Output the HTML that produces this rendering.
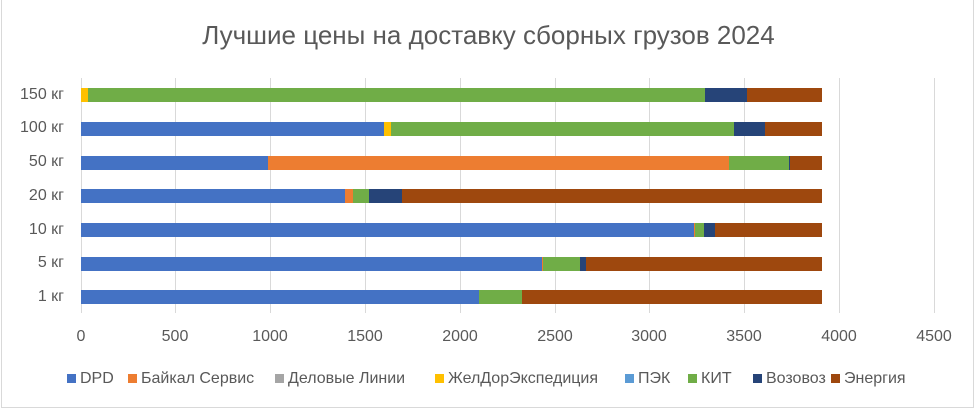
<!DOCTYPE html>
<html><head><meta charset="utf-8"><style>
body{margin:0;width:977px;height:410px;background:#fff;position:relative;overflow:hidden;font-family:"Liberation Sans","DejaVu Sans",sans-serif;color:#595959}
.frame{position:absolute;left:1px;top:-1px;width:973px;height:409px;border:1px solid #d9d9d9;box-sizing:border-box}
.t{position:absolute;white-space:nowrap}
.g{position:absolute;top:78px;height:235px;width:1px;background:#d9d9d9}
.b{position:absolute;height:14px}
.cat{position:absolute;right:913px;font-size:16px;white-space:nowrap}
.tick{position:absolute;top:328px;font-size:16px;width:60px;text-align:center}
.lg{position:absolute;top:370px;font-size:16px;white-space:nowrap}
.lg i{display:inline-block;width:9px;height:9px;margin-right:4px;vertical-align:0px}
</style></head><body>
<div class="frame"></div>
<div class="t" style="left:0;width:977px;text-align:center;top:20px;font-size:26px">Лучшие цены на доставку сборных грузов 2024</div>
<div class="g" style="left:81px"></div><div class="g" style="left:175px"></div><div class="g" style="left:270px"></div><div class="g" style="left:365px"></div><div class="g" style="left:460px"></div><div class="g" style="left:555px"></div><div class="g" style="left:649px"></div><div class="g" style="left:744px"></div><div class="g" style="left:839px"></div><div class="g" style="left:934px"></div>
<div class="tick" style="left:51px">0</div><div class="tick" style="left:145px">500</div><div class="tick" style="left:240px">1000</div><div class="tick" style="left:335px">1500</div><div class="tick" style="left:430px">2000</div><div class="tick" style="left:525px">2500</div><div class="tick" style="left:619px">3000</div><div class="tick" style="left:714px">3500</div><div class="tick" style="left:809px">4000</div><div class="tick" style="left:904px">4500</div>
<div class="cat" style="top:86px">150 кг</div>
<div class="cat" style="top:119px">100 кг</div>
<div class="cat" style="top:153px">50 кг</div>
<div class="cat" style="top:187px">20 кг</div>
<div class="cat" style="top:221px">10 кг</div>
<div class="cat" style="top:254px">5 кг</div>
<div class="cat" style="top:288px">1 кг</div>
<div class="b" style="top:88px;left:81px;width:7px;background:#ffc000"></div>
<div class="b" style="top:88px;left:88px;width:617px;background:#70ad47"></div>
<div class="b" style="top:88px;left:705px;width:42px;background:#264478"></div>
<div class="b" style="top:88px;left:747px;width:75px;background:#9e480e"></div>
<div class="b" style="top:122px;left:81px;width:303px;background:#4472c4"></div>
<div class="b" style="top:122px;left:384px;width:7px;background:#ffc000"></div>
<div class="b" style="top:122px;left:391px;width:343px;background:#70ad47"></div>
<div class="b" style="top:122px;left:734px;width:31px;background:#264478"></div>
<div class="b" style="top:122px;left:765px;width:57px;background:#9e480e"></div>
<div class="b" style="top:156px;left:81px;width:187px;background:#4472c4"></div>
<div class="b" style="top:156px;left:268px;width:461px;background:#ed7d31"></div>
<div class="b" style="top:156px;left:729px;width:60px;background:#70ad47"></div>
<div class="b" style="top:156px;left:789px;width:1px;background:#264478"></div>
<div class="b" style="top:156px;left:790px;width:32px;background:#9e480e"></div>
<div class="b" style="top:189px;left:81px;width:264px;background:#4472c4"></div>
<div class="b" style="top:189px;left:345px;width:8px;background:#ed7d31"></div>
<div class="b" style="top:189px;left:353px;width:16px;background:#70ad47"></div>
<div class="b" style="top:189px;left:369px;width:33px;background:#264478"></div>
<div class="b" style="top:189px;left:402px;width:420px;background:#9e480e"></div>
<div class="b" style="top:223px;left:81px;width:613px;background:#4472c4"></div>
<div class="b" style="top:223px;left:694px;width:1px;background:#ed7d31"></div>
<div class="b" style="top:223px;left:695px;width:9px;background:#70ad47"></div>
<div class="b" style="top:223px;left:704px;width:11px;background:#264478"></div>
<div class="b" style="top:223px;left:715px;width:107px;background:#9e480e"></div>
<div class="b" style="top:257px;left:81px;width:461px;background:#4472c4"></div>
<div class="b" style="top:257px;left:542px;width:1px;background:#ed7d31"></div>
<div class="b" style="top:257px;left:543px;width:37px;background:#70ad47"></div>
<div class="b" style="top:257px;left:580px;width:6px;background:#264478"></div>
<div class="b" style="top:257px;left:586px;width:236px;background:#9e480e"></div>
<div class="b" style="top:290px;left:81px;width:398px;background:#4472c4"></div>
<div class="b" style="top:290px;left:479px;width:43px;background:#70ad47"></div>
<div class="b" style="top:290px;left:522px;width:300px;background:#9e480e"></div>
<div class="lg" style="left:67px"><i style="background:#4472c4"></i>DPD</div>
<div class="lg" style="left:128px"><i style="background:#ed7d31"></i>Байкал Сервис</div>
<div class="lg" style="left:275px"><i style="background:#a5a5a5"></i>Деловые Линии</div>
<div class="lg" style="left:435px"><i style="background:#ffc000"></i>ЖелДорЭкспедиция</div>
<div class="lg" style="left:625px"><i style="background:#5b9bd5"></i>ПЭК</div>
<div class="lg" style="left:688px"><i style="background:#70ad47"></i>КИТ</div>
<div class="lg" style="left:753px"><i style="background:#264478"></i>Возовоз</div>
<div class="lg" style="left:831px"><i style="background:#9e480e"></i>Энергия</div>
</body></html>
